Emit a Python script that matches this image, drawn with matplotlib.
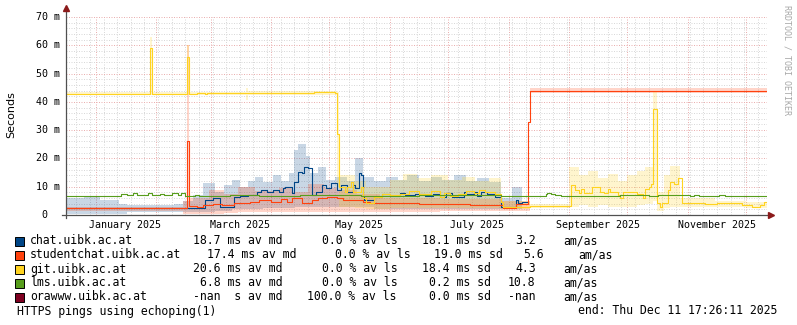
import matplotlib
matplotlib.use("Agg")
import matplotlib.pyplot as plt
import matplotlib.dates as mdates
import matplotlib.transforms as mtransforms
from matplotlib.patches import Rectangle
import numpy as np
import pandas as pd

# Ventana de tiempo del grafico (360 dias hasta el "end")
INICIO = pd.Timestamp("2024-12-16 17:26:11")
FIN = pd.Timestamp("2025-12-11 17:26:11")

COLOR_CHAT = "#004586"
COLOR_STUDENT = "#ff420e"
COLOR_GIT = "#ffd320"
COLOR_LMS = "#579d1c"
COLOR_ORA = "#7e0021"

# ---- medianas (ms), funciones escalon: fecha de cambio -> valor ----
chat_fechas = ["2024-12-16", "2025-02-26", "2025-03-02", "2025-03-06", "2025-03-13", "2025-03-16",
               "2025-03-20", "2025-03-25", "2025-03-27", "2025-03-30", "2025-04-02", "2025-04-05",
               "2025-04-07", "2025-04-08", "2025-04-12", "2025-04-13", "2025-04-15", "2025-04-17",
               "2025-04-18", "2025-04-20", "2025-04-22", "2025-04-24", "2025-04-27", "2025-04-29",
               "2025-05-02", "2025-05-05", "2025-05-07", "2025-05-10", "2025-05-13", "2025-05-14",
               "2025-05-16", "2025-05-17", "2025-05-18", "2025-05-19", "2025-05-24", "2025-05-28",
               "2025-06-01", "2025-06-06", "2025-06-09", "2025-06-14", "2025-06-19", "2025-06-23",
               "2025-06-27", "2025-06-30", "2025-07-03", "2025-07-09", "2025-07-10", "2025-07-14",
               "2025-07-16", "2025-07-18", "2025-07-21", "2025-07-25", "2025-07-28", "2025-08-05",
               "2025-08-06", "2025-08-08", "2025-08-11"]
chat_ms = [2.6, 5.3, 5.9, 2.7, 6.3, 6.7,
           7.0, 8.2, 8.8, 8.2, 8.8, 8.2,
           9.4, 10.0, 7.7, 11.8, 15.3, 14.7,
           17.1, 16.5, 7.0, 8.2, 10.6, 9.4,
           11.2, 8.8, 10.6, 8.2, 10.6, 9.4,
           14.7, 14.1, 6.5, 5.3, 6.5, 7.5,
           6.8, 7.8, 6.9, 7.5, 6.6, 7.6,
           6.5, 7.7, 6.5, 8.0, 7.3, 8.2,
           6.8, 8.2, 7.3, 6.5, 2.9, 5.3,
           4.1, 4.7, np.nan]

student_fechas = ["2024-12-16", "2025-02-08", "2025-02-17", "2025-02-18", "2025-02-22", "2025-02-25",
                  "2025-03-02", "2025-03-07", "2025-03-13", "2025-03-18", "2025-03-21", "2025-03-26",
                  "2025-04-01", "2025-04-06", "2025-04-09", "2025-04-12", "2025-04-17", "2025-04-22",
                  "2025-04-25", "2025-04-30", "2025-05-05", "2025-05-08", "2025-05-18", "2025-05-22",
                  "2025-05-27", "2025-06-16", "2025-07-12", "2025-07-29", "2025-08-05", "2025-08-11",
                  "2025-08-12"]
student_ms = [2.3, 2.6, 26.0, 3.2, 2.9, 3.5,
              3.9, 3.5, 4.1, 4.4, 4.7, 5.3,
              4.7, 5.5, 4.7, 5.9, 4.1, 5.3,
              5.9, 6.5, 5.9, 5.3, 4.7, 4.4,
              4.1, 4.0, 3.5, 2.6, 3.9, 33.0,
              44.0]

git_fechas = ["2024-12-16", "2025-01-29", "2025-01-30", "2025-02-17", "2025-02-18", "2025-02-22",
              "2025-02-26", "2025-02-27", "2025-03-06", "2025-03-13", "2025-04-23", "2025-05-04",
              "2025-05-05", "2025-05-06", "2025-05-09", "2025-05-10", "2025-05-12", "2025-05-13",
              "2025-05-17", "2025-05-18", "2025-05-20", "2025-05-24", "2025-05-28", "2025-06-01",
              "2025-06-06", "2025-06-11", "2025-06-16", "2025-06-22", "2025-06-27", "2025-06-29",
              "2025-07-02", "2025-07-06", "2025-07-10", "2025-07-14", "2025-07-17", "2025-07-20",
              "2025-07-25", "2025-07-28", "2025-07-29", "2025-08-12", "2025-09-02", "2025-09-04",
              "2025-09-06", "2025-09-07", "2025-09-09", "2025-09-13", "2025-09-17", "2025-09-19",
              "2025-09-21", "2025-09-22", "2025-09-26", "2025-09-27", "2025-09-29", "2025-10-06",
              "2025-10-09", "2025-10-10", "2025-10-12", "2025-10-13", "2025-10-14", "2025-10-16",
              "2025-10-18", "2025-10-19", "2025-10-22", "2025-10-23", "2025-10-25", "2025-10-27",
              "2025-10-29", "2025-11-10", "2025-11-16", "2025-11-29", "2025-12-04", "2025-12-08",
              "2025-12-10"]
git_ms = [42.9, 59.0, 42.9, 56.0, 42.9, 43.2,
          42.8, 43.2, 43.0, 43.2, 43.5, 43.2,
          28.6, 9.9, 8.2, 9.9, 11.8, 8.2,
          9.9, 6.0, 4.4, 6.4, 7.4, 7.2,
          7.6, 8.6, 7.3, 8.4, 6.5, 7.9,
          6.8, 7.5, 8.4, 7.8, 8.9, 8.0,
          7.4, 4.5, 2.9, 3.2, 10.6, 8.8,
          7.7, 9.1, 7.7, 9.8, 8.0, 7.7,
          9.1, 8.2, 7.1, 6.0, 8.2, 7.4,
          6.0, 9.1, 10.0, 11.0, 37.5, 4.1,
          2.7, 4.1, 8.8, 11.8, 11.0, 13.0,
          4.1, 3.9, 4.2, 3.5, 2.7, 3.5,
          4.7]

lms_fechas = ["2024-12-16", "2025-01-14", "2025-01-17", "2025-01-20", "2025-01-22", "2025-01-28",
              "2025-01-30", "2025-02-03", "2025-02-05", "2025-02-09", "2025-02-12", "2025-02-14",
              "2025-02-16", "2025-02-21", "2025-02-23", "2025-03-11", "2025-03-26", "2025-04-16",
              "2025-05-17", "2025-06-16", "2025-07-28", "2025-08-20", "2025-08-21", "2025-08-23",
              "2025-08-25", "2025-08-28", "2025-09-27", "2025-10-12", "2025-10-17", "2025-11-02",
              "2025-11-04", "2025-11-07", "2025-11-17", "2025-11-20"]
lms_ms = [6.8, 7.3, 7.0, 7.7, 7.1, 7.7,
          7.0, 7.3, 7.0, 7.7, 7.2, 7.8,
          6.8, 7.2, 6.8, 7.1, 6.8, 7.0,
          6.8, 7.0, 6.8, 7.5, 7.9, 7.5,
          7.0, 6.8, 7.0, 6.8, 7.1, 6.8,
          7.2, 6.8, 7.2, 6.8]

# ---- humo (rango min/max de los pings), ms ----
chat_humo_fechas = ["2024-12-16", "2024-12-26", "2025-01-03", "2025-01-13", "2025-01-17", "2025-02-10",
                    "2025-02-15", "2025-02-20", "2025-02-25", "2025-03-03", "2025-03-08", "2025-03-12",
                    "2025-03-16", "2025-03-20", "2025-03-24", "2025-03-28", "2025-04-02", "2025-04-06",
                    "2025-04-10", "2025-04-13", "2025-04-15", "2025-04-19", "2025-04-21", "2025-04-25",
                    "2025-04-29", "2025-05-04", "2025-05-10", "2025-05-14", "2025-05-18", "2025-05-24",
                    "2025-05-30", "2025-06-05", "2025-06-10", "2025-06-16", "2025-06-22", "2025-06-28",
                    "2025-07-04", "2025-07-10", "2025-07-16", "2025-07-22", "2025-07-28", "2025-08-03",
                    "2025-08-08", "2025-08-11"]
chat_humo_min = [0.3, 0.3, 0.3, 0.5, 1.0, 1.0,
                 1.0, 1.0, 1.2, 1.5, 1.5, 2.0,
                 2.0, 2.0, 2.0, 2.5, 2.5, 2.5,
                 2.5, 3.0, 3.0, 3.0, 3.0, 3.0,
                 3.0, 3.0, 3.0, 3.0, 3.0, 2.0,
                 2.0, 2.0, 2.0, 2.0, 2.0, 2.0,
                 2.0, 2.0, 2.0, 2.0, 2.0, 2.0,
                 2.0, np.nan]
chat_humo_max = [6.0, 6.5, 5.3, 3.9, 3.5, 4.0,
                 5.0, 7.0, 11.4, 8.0, 10.5, 12.4,
                 10.0, 12.0, 13.5, 11.5, 14.0, 12.0,
                 15.0, 23.0, 25.0, 21.0, 15.0, 17.0,
                 12.4, 13.5, 12.0, 20.0, 13.5, 12.0,
                 13.5, 12.5, 14.0, 12.0, 13.5, 12.5,
                 14.0, 12.0, 13.0, 11.5, 6.0, 10.0,
                 8.0, np.nan]

student_humo_fechas = ["2024-12-16", "2025-02-15", "2025-02-17", "2025-02-18", "2025-02-28", "2025-03-08",
                       "2025-03-15", "2025-03-24", "2025-04-05", "2025-04-12", "2025-04-20", "2025-04-28",
                       "2025-05-05", "2025-05-15", "2025-05-27", "2025-06-27", "2025-07-28", "2025-08-12"]
student_humo_min = [1.5, 0.5, 0.5, 0.5, 0.5, 0.8,
                    1.0, 1.0, 1.0, 1.0, 1.0, 1.0,
                    1.0, 1.0, 1.0, 1.5, 1.5, 43.0]
student_humo_max = [3.0, 5.0, 60.0, 6.0, 9.0, 7.5,
                    10.0, 8.5, 9.5, 8.0, 11.0, 9.5,
                    9.0, 7.5, 6.0, 5.5, 5.0, 44.8]

git_humo_fechas = ["2024-12-16", "2025-01-29", "2025-01-30", "2025-02-17", "2025-02-18", "2025-03-19",
                   "2025-03-20", "2025-05-05", "2025-05-06", "2025-05-14", "2025-05-20", "2025-06-01",
                   "2025-06-08", "2025-06-15", "2025-06-22", "2025-07-01", "2025-07-08", "2025-07-15",
                   "2025-07-22", "2025-07-28", "2025-08-12", "2025-09-01", "2025-09-06", "2025-09-11",
                   "2025-09-16", "2025-09-21", "2025-09-26", "2025-10-01", "2025-10-06", "2025-10-10",
                   "2025-10-14", "2025-10-16", "2025-10-20", "2025-10-23", "2025-10-28", "2025-11-15",
                   "2025-12-01"]
git_humo_min = [42.3, 42.3, 42.3, 42.3, 42.3, 40.5,
                42.5, 10.0, 3.0, 2.5, 2.0, 2.5,
                2.5, 2.5, 2.5, 2.5, 2.5, 2.5,
                2.5, 2.0, 2.5, 3.0, 3.5, 3.0,
                3.5, 3.0, 3.0, 3.0, 3.5, 4.0,
                5.0, 1.5, 2.5, 3.0, 3.0, 3.0,
                2.5]
git_humo_max = [43.6, 63.0, 43.6, 60.0, 43.6, 45.0,
                43.8, 43.5, 14.0, 12.0, 10.0, 12.5,
                14.5, 13.0, 14.0, 12.5, 13.5, 12.0,
                13.0, 5.0, 4.0, 17.0, 14.0, 15.5,
                13.0, 14.5, 12.0, 14.0, 15.5, 17.0,
                44.0, 8.0, 14.0, 17.5, 6.0, 5.0,
                4.5]

# ---- leyenda ----
hosts = ["chat.uibk.ac.at", "studentchat.uibk.ac.at", "git.uibk.ac.at", "lms.uibk.ac.at", "orawww.uibk.ac.at"]
colores = [COLOR_CHAT, COLOR_STUDENT, COLOR_GIT, COLOR_LMS, COLOR_ORA]
col_md = ["18.7 ms av md", "17.4 ms av md", "20.6 ms av md", "6.8 ms av md", "-nan  s av md"]
col_ls = ["0.0 % av ls", "0.0 % av ls", "0.0 % av ls", "0.0 % av ls", "100.0 % av ls"]
col_sd = ["18.1 ms sd", "19.0 ms sd", "18.4 ms sd", "0.2 ms sd", "0.0 ms sd"]
col_am = ["3.2", "5.6", "4.3", "10.8", "-nan"]
# posiciones horizontales (px) de cada columna por fila
x_md = [193, 207, 193, 200, 193]
x_ls = [322, 335, 322, 322, 307]
x_sd = [422, 434, 422, 429, 429]
x_am = [515, 523, 515, 508, 508]
x_amas = [563, 578, 563, 563, 563]

meses_etiqueta = ["2025-01-01", "2025-03-01", "2025-05-01", "2025-07-01", "2025-09-01", "2025-11-01"]

W, H = 797, 325
MONO = "DejaVu Sans Mono"


def escalon(fechas, valores):
    x = pd.to_datetime(fechas).append(pd.DatetimeIndex([FIN]))
    y = np.append(np.asarray(valores, dtype=float), valores[-1])
    return x, y


def fx(px):
    return px / W


def fy(py):
    return 1 - py / H


fig = plt.figure(figsize=(W / 100, H / 100), dpi=100, facecolor="white")
ax = fig.add_axes([fx(66), fy(215), (767 - 66) / W, (215 - 17) / H])
ax.set_facecolor("white")

# humo
for fechas, lo, hi, col, a in [
    (chat_humo_fechas, chat_humo_min, chat_humo_max, COLOR_CHAT, 0.21),
    (student_humo_fechas, student_humo_min, student_humo_max, COLOR_STUDENT, 0.22),
    (git_humo_fechas, git_humo_min, git_humo_max, COLOR_GIT, 0.22),
]:
    x, y0 = escalon(fechas, lo)
    _, y1 = escalon(fechas, hi)
    ax.fill_between(x, y0, y1, step="post", color=col, alpha=a, lw=0, zorder=2)

# medianas
for fechas, vals, col in [
    (chat_fechas, chat_ms, COLOR_CHAT),
    (student_fechas, student_ms, COLOR_STUDENT),
    (git_fechas, git_ms, COLOR_GIT),
    (lms_fechas, lms_ms, COLOR_LMS),
]:
    x, y = escalon(fechas, vals)
    ax.step(x, y, where="post", color=col, lw=0.8, zorder=3)

ax.set_xlim(INICIO, FIN)
ax.set_ylim(0, 70)

# rejilla punteada estilo rrdtool
ax.xaxis.set_major_locator(mdates.MonthLocator())
ax.xaxis.set_minor_locator(mdates.WeekdayLocator(byweekday=mdates.SU))
ax.yaxis.set_major_locator(matplotlib.ticker.MultipleLocator(10))
ax.yaxis.set_minor_locator(matplotlib.ticker.MultipleLocator(2))
ax.grid(which="minor", color="#d9d9d9", linestyle=(0, (1, 1.5)), lw=0.72, zorder=1)
ax.grid(which="major", color="#eab0b0", linestyle=(0, (1, 1.5)), lw=0.72, zorder=1)
ax.set_axisbelow(True)
ax.tick_params(which="both", length=0, labelleft=False, labelbottom=False)
for s in ax.spines.values():
    s.set_visible(False)

# ejes con flechas
ax.plot([0, 0], [-0.015, 1.03], transform=ax.transAxes, color="#505050", lw=0.9, clip_on=False, zorder=5)
ax.plot([-0.006, 1.005], [0, 0], transform=ax.transAxes, color="#505050", lw=0.9, clip_on=False, zorder=5)
ax.plot([0], [1.045], marker="^", ms=4, color="#8b1a1a", transform=ax.transAxes, clip_on=False, zorder=6)
ax.plot([1.006], [0], marker=">", ms=4, color="#8b1a1a", transform=ax.transAxes, clip_on=False, zorder=6)

# etiquetas del eje y
trans_y = mtransforms.blended_transform_factory(fig.transFigure, ax.transData)
for v in range(0, 71, 10):
    if v == 0:
        fig.text(fx(47.5), v, "0", transform=trans_y, ha="right", va="center", family=MONO, size=7.2)
    else:
        fig.text(fx(59.5), v, f"{v} m", transform=trans_y, ha="right", va="center", family=MONO, size=7.2)
fig.text(fx(11), fy(115), "Seconds", rotation=90, ha="center", va="center", family="DejaVu Sans", size=8)

# etiquetas del eje x (centradas a mitad de mes)
trans_x = mtransforms.blended_transform_factory(ax.transData, fig.transFigure)
for m in meses_etiqueta:
    t = pd.Timestamp(m)
    fig.text(mdates.date2num(t + pd.Timedelta(days=15)), fy(225), t.strftime("%B %Y"),
             transform=trans_x, ha="center", va="center", family=MONO, size=7.2)

# leyenda
for i, host in enumerate(hosts):
    yc = 241 + 14 * i
    fig.patches.append(Rectangle((fx(15), fy(yc + 4.5)), 9 / W, 9 / H, transform=fig.transFigure,
                                 facecolor=colores[i], edgecolor="black", lw=0.7))
    fig.text(fx(30), fy(yc), host, ha="left", va="center", family=MONO, size=8.3)
    fig.text(fx(x_md[i]), fy(yc), col_md[i], ha="left", va="center", family=MONO, size=8.3)
    fig.text(fx(x_ls[i]), fy(yc), col_ls[i], ha="left", va="center", family=MONO, size=8.3)
    fig.text(fx(x_sd[i]), fy(yc), col_sd[i], ha="left", va="center", family=MONO, size=8.3)
    fig.text(fx(x_am[i]), fy(yc), col_am[i], ha="left", va="center", family=MONO, size=8.3)
    fig.text(fx(x_amas[i]), fy(yc), "am/as", ha="left", va="center", family=MONO, size=8.3)

fig.text(fx(17), fy(311), "HTTPS pings using echoping(1)", ha="left", va="center", family=MONO, size=8.3)
fig.text(fx(578), fy(311), "end: Thu Dec 11 17:26:11 2025", ha="left", va="center", family=MONO, size=8.3)
fig.text(fx(787), fy(60), "RRDTOOL / TOBI OETIKER", rotation=270, ha="center", va="center",
         family=MONO, size=6, color="#a8a8a8")

fig.savefig("out.png", dpi=100, facecolor="white")
